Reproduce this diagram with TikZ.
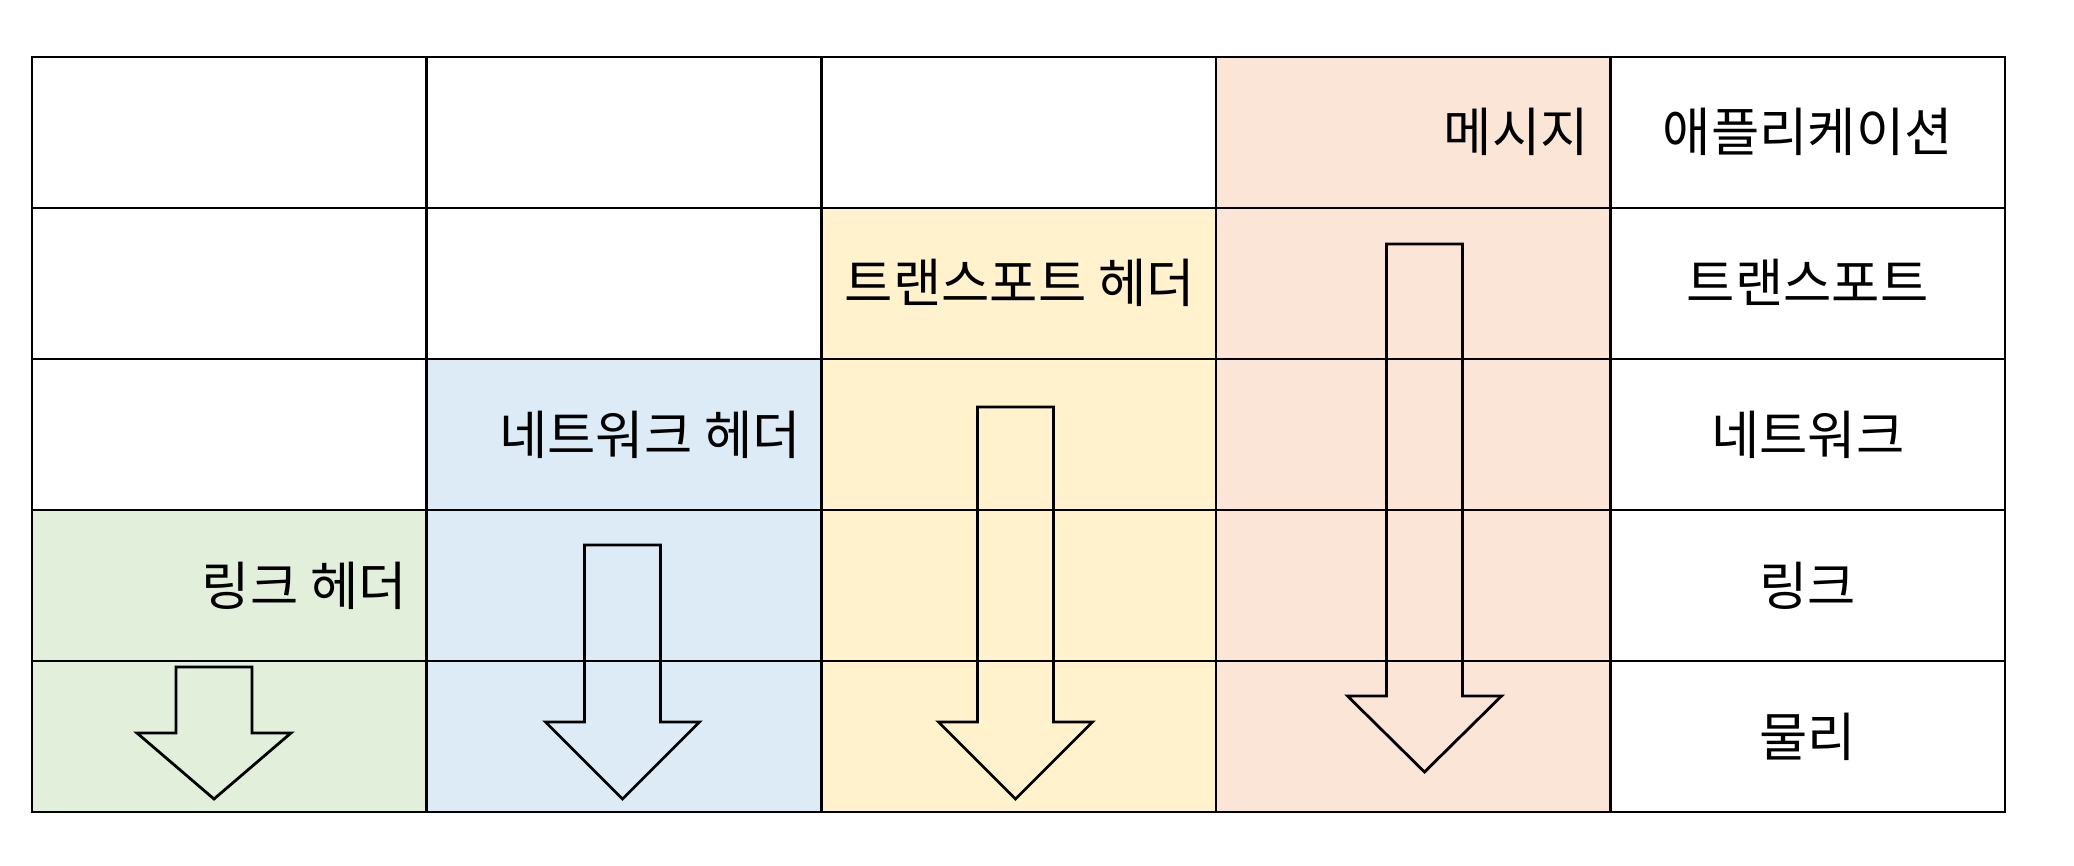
\documentclass[tikz,border=0pt]{standalone}
\usepackage{fontspec}
\setmainfont{Noto Sans CJK KR}
\definecolor{lgreen}{HTML}{E2EFDA}
\definecolor{lblue}{HTML}{DDEBF7}
\definecolor{lyellow}{HTML}{FFF2CC}
\definecolor{lorange}{HTML}{FBE5D6}
\tikzset{
  gridline/.style={line width=2.6pt, black},
  bigarrow/.style={line width=2.8pt, black, line join=miter},
  lbl/.style={inner sep=0pt, font=\fontsize{52.5}{62}\selectfont},
  rlbl/.style={lbl, anchor=base east},
  clbl/.style={lbl, anchor=base}
}
\begin{document}
\begin{tikzpicture}[x=1pt,y=-1pt]
\useasboundingbox[fill=white] (0,0) rectangle (2074,866);
% coloured regions
\fill[lgreen]  (32,510)     rectangle (426.6,812);
\fill[lblue]   (426.6,359)  rectangle (821.2,812);
\fill[lyellow] (821.2,208)  rectangle (1215.8,812);
\fill[lorange] (1215.8,57)  rectangle (1610.4,812);
% grid
\foreach \y in {208,359,510,661} \draw[gridline] (32,\y) -- (2005,\y);
\foreach \x in {426.6,821.2,1215.8,1610.4} \draw[gridline] (\x,57) -- (\x,812);
\draw[gridline] (32,57) rectangle (2005,812);
% arrows
\draw[bigarrow] (176,667) -- (252,667) -- (252,733) -- (291,733) -- (214,799) -- (137,733) -- (176,733) -- cycle;
\draw[bigarrow] (584.5,545) -- (660.5,545) -- (660.5,722) -- (699.5,722) -- (622.5,799) -- (545.5,722) -- (584.5,722) -- cycle;
\draw[bigarrow] (977.5,407) -- (1053.5,407) -- (1053.5,722) -- (1092.5,722) -- (1015.5,799) -- (938.5,722) -- (977.5,722) -- cycle;
\draw[bigarrow] (1386.5,244) -- (1462.5,244) -- (1462.5,696) -- (1501.5,696) -- (1424.5,772) -- (1347.5,696) -- (1386.5,696) -- cycle;
% header labels
\node[rlbl] (msg)   at (1589,152) {메시지};
\node[rlbl] (thdr)  at (1195,303) {트랜스포트 헤더};
\node[rlbl] (nhdr)  at (801,454)  {네트워크 헤더};
\node[rlbl] (lhdr)  at (407,605)  {링크 헤더};
% layer labels
\node[clbl] (app)   at (1807.7,152) {애플리케이션};
\node[clbl] (trans) at (1807.7,303) {트랜스포트};
\node[clbl] (net)   at (1807.7,454) {네트워크};
\node[clbl] (link)  at (1807.7,605) {링크};
\node[clbl] (phys)  at (1807.7,756) {물리};
\end{tikzpicture}
\end{document}
